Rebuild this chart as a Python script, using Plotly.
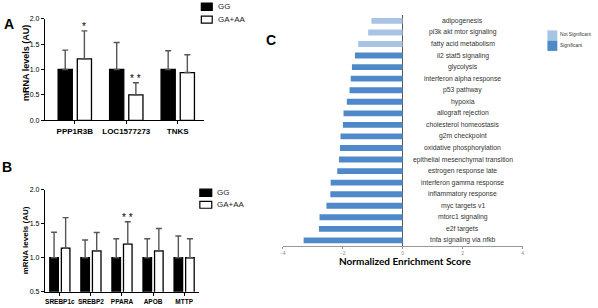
import plotly.graph_objects as go

W, H = 598, 308

# ---------------- data ----------------
genes_a = ["PPP1R3B", "LOC1577273", "TNKS"]
gg_a = [1.0, 1.0, 1.0]
gg_a_err = [0.38, 0.53, 0.37]
ga_a = [1.21, 0.50, 0.94]
ga_a_err = [0.55, 0.24, 0.35]
stars_a = ["*", "* *", ""]

genes_b = ["SREBP1c", "SREBP2", "PPARA", "APOB", "MTTP"]
gg_b = [1.0, 1.0, 1.0, 1.0, 1.0]
gg_b_err = [0.375, 0.26, 0.28, 0.28, 0.32]
ga_b = [1.14, 1.10, 1.20, 1.10, 1.00]
ga_b_err = [0.45, 0.27, 0.33, 0.33, 0.28]
stars_b = ["", "", "* *", "", ""]

pathways = [
    "adipogenesis", "pi3k akt mtor signaling", "fatty acid metabolism",
    "il2 stat5 signaling", "glycolysis", "interferon alpha response",
    "p53 pathway", "hypoxia", "allograft rejection", "cholesterol homeostasis",
    "g2m checkpoint", "oxidative phosphorylation",
    "epithelial mesenchymal transition", "estrogen response late",
    "interferon gamma response", "inflammatory response", "myc targets v1",
    "mtorc1 signaling", "e2f targets", "tnfa signaling via nfkb",
]
nes = [-1.04, -1.15, -1.48, -1.59, -1.69, -1.73, -1.77, -1.86, -1.97, -1.99,
       -2.07, -2.09, -2.12, -2.18, -2.40, -2.41, -2.54, -2.77, -2.79, -3.30]
significant = [False, False, False] + [True] * 17
nes_ticks = [-4, -2, 0, 2, 4]

# ---------------- styling ----------------
FONT = "Liberation Sans, Arial, sans-serif"
ERRC = "#555555"
SIG = "#4f89c9"
NSIG = "#a8c4e4"


def px_x(p):
    return p / W


def px_y(p):
    return 1 - p / H


fig = go.Figure()

# Panel A
fig.add_trace(go.Bar(x=genes_a, y=gg_a, name="GG", marker=dict(color="black", line=dict(color="black", width=1.3)),
                     error_y=dict(type="data", symmetric=False, array=gg_a_err, arrayminus=[0] * len(gg_a),
                                  color=ERRC, thickness=1.4, width=3),
                     xaxis="x", yaxis="y", offsetgroup="gg", showlegend=False))
fig.add_trace(go.Bar(x=genes_a, y=ga_a, name="GA+AA", marker=dict(color="white", line=dict(color="black", width=1.3)),
                     error_y=dict(type="data", symmetric=False, array=ga_a_err, arrayminus=[0] * len(ga_a),
                                  color=ERRC, thickness=1.4, width=3),
                     xaxis="x", yaxis="y", offsetgroup="ga", showlegend=False))

# Panel B
fig.add_trace(go.Bar(x=genes_b, y=gg_b, name="GG", marker=dict(color="black", line=dict(color="black", width=1.3)),
                     error_y=dict(type="data", symmetric=False, array=gg_b_err, arrayminus=[0] * len(gg_b),
                                  color=ERRC, thickness=1.4, width=3),
                     xaxis="x2", yaxis="y2", offsetgroup="gg", showlegend=False))
fig.add_trace(go.Bar(x=genes_b, y=ga_b, name="GA+AA", marker=dict(color="white", line=dict(color="black", width=1.3)),
                     error_y=dict(type="data", symmetric=False, array=ga_b_err, arrayminus=[0] * len(ga_b),
                                  color=ERRC, thickness=1.4, width=3),
                     xaxis="x2", yaxis="y2", offsetgroup="ga", showlegend=False))

# Panel C
for flag, col, nm in [(False, NSIG, "Not Significant"), (True, SIG, "Significant")]:
    ys = [p for p, s in zip(pathways, significant) if s == flag]
    xs = [v for v, s in zip(nes, significant) if s == flag]
    fig.add_trace(go.Bar(x=xs, y=ys, orientation="h", name=nm, marker=dict(color=col, line=dict(width=0)),
                         width=0.51, offsetgroup="c", xaxis="x3", yaxis="y3", showlegend=False))

annotations = []

# pathway labels
for p in pathways:
    annotations.append(dict(x=2, y=p, xref="x3", yref="y3", text=p, showarrow=False,
                            xanchor="center", yanchor="middle",
                            font=dict(family=FONT, size=6.8, color="#333333")))

# stars
for g, s, v, e in zip(genes_a, stars_a, ga_a, ga_a_err):
    if s:
        annotations.append(dict(x=g, y=v + e, xref="x", yref="y", text=s, showarrow=False,
                                xshift=9.5, yanchor="bottom", yshift=-3,
                                font=dict(family=FONT, size=10, color="black")))
for g, s, v, e in zip(genes_b, stars_b, ga_b, ga_b_err):
    if s:
        annotations.append(dict(x=g, y=v + e, xref="x2", yref="y2", text=s, showarrow=False,
                                xshift=5.8, yanchor="bottom", yshift=-3,
                                font=dict(family=FONT, size=10, color="black")))

# panel letters
for t, x, y in [("A", 6, 20), ("B", 4, 167), ("C", 270, 37)]:
    annotations.append(dict(x=px_x(x), y=px_y(y), xref="paper", yref="paper", text="<b>%s</b>" % t,
                            showarrow=False, xanchor="center", yanchor="middle",
                            font=dict(family=FONT, size=14, color="black")))

# y titles
annotations.append(dict(x=px_x(22.5), y=px_y(60), xref="paper", yref="paper", text="<b>mRNA levels (AU)</b>",
                        textangle=-90, showarrow=False, xanchor="center", yanchor="middle",
                        font=dict(family=FONT, size=9, color="black")))
annotations.append(dict(x=px_x(23), y=px_y(242), xref="paper", yref="paper", text="<b>mRNA levels (AU)</b>",
                        textangle=-90, showarrow=False, xanchor="center", yanchor="middle",
                        font=dict(family=FONT, size=8, color="black")))

# C axis title
annotations.append(dict(x=px_x(405), y=px_y(263), xref="paper", yref="paper",
                        text="<b>Normalized Enrichment Score</b>", showarrow=False,
                        xanchor="center", yanchor="middle",
                        font=dict(family="Lato, Open Sans, sans-serif", size=10, color="black")))

shapes = []


def legend_item(x0, y0, x1, y1, fill, line, text, tx, ty, size, tcolor="#222222"):
    shapes.append(dict(type="rect", xref="paper", yref="paper", x0=px_x(x0), x1=px_x(x1),
                       y0=px_y(y1), y1=px_y(y0), fillcolor=fill,
                       line=dict(color=line, width=1.2 if line else 0)))
    annotations.append(dict(x=px_x(tx), y=px_y(ty), xref="paper", yref="paper", text=text,
                            showarrow=False, xanchor="left", yanchor="middle",
                            font=dict(family=FONT, size=size, color=tcolor)))


# legend A
legend_item(200, -1, 211, 6.5, "black", "black", "GG", 215, 3, 8)
legend_item(200, 12.5, 211, 19.5, "white", "black", "GA+AA", 215, 16, 8)
# legend B
legend_item(198.5, 189.5, 210.5, 197, "black", "black", "GG", 214, 193, 8)
legend_item(198.5, 202, 210.5, 209, "white", "black", "GA+AA", 214, 205.5, 8)
# legend C
legend_item(549, 27, 559, 37.5, NSIG, None, "Not Significant", 560, 31.5, 4.8, "#333333")
legend_item(549, 37.5, 559, 48, SIG, None, "Significant", 560, 42.5, 4.8, "#333333")

ax_common = dict(showgrid=False, zeroline=False, showline=True, linecolor="black", linewidth=1.3,
                 ticks="outside", ticklen=3, tickwidth=1.3, tickcolor="black")

fig.update_layout(
    width=W, height=H, margin=dict(l=0, r=0, t=0, b=0),
    paper_bgcolor="white", plot_bgcolor="white",
    barmode="group", bargap=0.255, bargroupgap=0.26,
    font=dict(family=FONT),
    xaxis=dict(domain=[px_x(42.3), px_x(202.7)], anchor="y", type="category", range=[-0.58, 2.51],
               tickfont=dict(family=FONT, size=8, color="black"), tickprefix="<b>", ticksuffix="</b>",
               **ax_common),
    yaxis=dict(domain=[px_y(119), px_y(15)], anchor="x", range=[0, 2], tickvals=[0, 0.5, 1, 1.5, 2],
               ticktext=["0.0", "0.5", "1.0", "1.5", "2.0"],
               tickfont=dict(family=FONT, size=7, color="black"), tickprefix="<b>", ticksuffix="</b>",
               **ax_common),
    xaxis2=dict(domain=[px_x(42.3), px_x(198)], anchor="y2", type="category", range=[-0.48, 4.49],
                tickfont=dict(family=FONT, size=6.5, color="black"), tickprefix="<b>", ticksuffix="</b>",
                **ax_common),
    yaxis2=dict(domain=[px_y(294.5), px_y(190)], anchor="x2", range=[0.5, 2], tickvals=[0.5, 1, 1.5, 2],
                ticktext=["0.5", "1.0", "1.5", "2.0"],
                tickfont=dict(family=FONT, size=7, color="black"), tickprefix="<b>", ticksuffix="</b>",
                **ax_common),
    xaxis3=dict(domain=[px_x(282), px_x(524)], anchor="y3", range=[-4, 4], tickvals=nes_ticks,
                showgrid=False, showline=True, linecolor="#999999", linewidth=1,
                ticks="outside", ticklen=2, tickwidth=1, tickcolor="#999999",
                zeroline=True, zerolinecolor="#555555", zerolinewidth=1.2,
                tickfont=dict(family=FONT, size=5, color="#888888")),
    yaxis3=dict(domain=[px_y(247.8), px_y(11.4)], anchor="x3", type="category",
                categoryorder="array", categoryarray=pathways, range=[len(pathways) - 0.5, -0.5],
                showticklabels=False, showgrid=False, zeroline=False, showline=False, ticks=""),
    annotations=annotations,
    shapes=shapes,
)

fig.write_html("out.html", config={"displayModeBar": False},
               post_script="document.body.style.margin='0';document.body.style.overflow='hidden';")
